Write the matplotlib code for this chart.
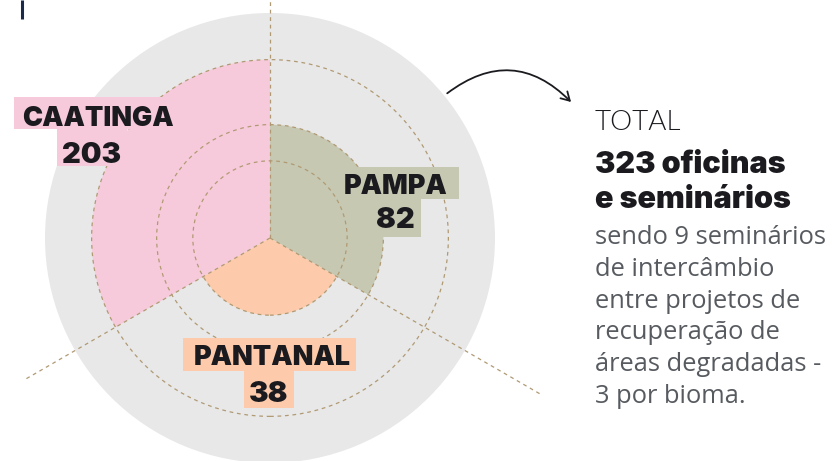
import numpy as np
import matplotlib
matplotlib.use("Agg")
import matplotlib.pyplot as plt
from matplotlib.patches import Wedge, Circle, Rectangle, FancyArrowPatch

# ---- data ----
biomes = ["CAATINGA", "PAMPA", "PANTANAL"]
values = [203, 82, 38]
total = 323
start_angles = [90, -30, 210]   # sector start (deg)
colors = ["#f7cadb", "#c6c8b2", "#fdcbab"]
body_lines = ["sendo 9 seminários", "de intercâmbio", "entre projetos de",
              "recuperação de", "áreas degradadas -", "3 por bioma."]

W, H = 832, 461
fig = plt.figure(figsize=(W / 100, H / 100), dpi=100)
ax = fig.add_axes([0, 0, 1, 1])
ax.set_xlim(0, W)
ax.set_ylim(0, H)
ax.axis("off")

cx, cy = 270, H - 238
k = 225 / np.sqrt(total)          # radius scale: r = k*sqrt(value)

def R(v):
    return k * np.sqrt(v)

grid_col = "#b09a74"
ax.add_patch(Circle((cx, cy), R(total), facecolor="#e8e8e8", edgecolor="none", zorder=1))
for v, a0, c in zip(values, start_angles, colors):
    ax.add_patch(Wedge((cx, cy), R(v), a0, a0 + 120, facecolor=c, edgecolor="none", zorder=2))
for v in values:
    ax.add_patch(Circle((cx, cy), R(v), facecolor="none", edgecolor=grid_col,
                        lw=0.9, ls=(0, (3, 3)), zorder=3))
for a0, L in zip(start_angles, [300, 313, 283]):
    t = np.deg2rad(a0)
    ax.plot([cx, cx + L * np.cos(t)], [cy, cy + L * np.sin(t)], color=grid_col,
            lw=0.9, ls=(0, (3, 3)), zorder=3)

lab_font = dict(family="Inter", fontweight=900, color="#1b1a1f", zorder=6)
label_layout = [
    ((14, H - 129, 163, 32), (57, H - 166, 70, 37), 98, H - 126, 92, H - 163),
    ((342, H - 199, 117, 32), (367, H - 237, 54, 38), 396, H - 194, 395, H - 228),
    ((183, H - 371, 173, 33), (244, H - 408, 50, 37), 272, H - 365, 269, H - 402),
]
for name, v, c, lay in zip(biomes, values, colors, label_layout):
    r1, r2, nx, ny, vx, vy = lay
    ax.add_patch(Rectangle(r1[:2], r1[2], r1[3], facecolor=c, edgecolor="none", zorder=5))
    ax.add_patch(Rectangle(r2[:2], r2[2], r2[3], facecolor=c, edgecolor="none", zorder=5))
    ax.text(nx, ny, name, fontsize=19.4, ha="center", va="baseline", **lab_font)
    ax.text(vx, vy, str(v), fontsize=21, ha="center", va="baseline", **lab_font)

arr = FancyArrowPatch((445, H - 95), (573, H - 104), connectionstyle="arc3,rad=-0.45",
                      arrowstyle="->,head_length=6,head_width=3.5", color="#1b1a1f",
                      lw=1.3, zorder=6)
ax.add_patch(arr)

ax.plot([22, 22], [H - 19, H], color="#1c2a4a", lw=2.2, solid_capstyle="butt")

ax.text(595, H - 130, "TOTAL", fontsize=20, family="Lato", fontweight=300,
        color="#1b1a1f", va="baseline")
ax.text(595, H - 173, f"{total} oficinas", fontsize=22, family="Inter",
        fontweight=900, color="#1b1a1f", va="baseline")
ax.text(595, H - 208, "e seminários", fontsize=22, family="Inter",
        fontweight=900, color="#1b1a1f", va="baseline")
for i, line in enumerate(body_lines):
    ax.text(595, H - 244 - i * 31.8, line, fontsize=18.4, family="Open Sans",
            color="#575b60", va="baseline")

fig.savefig("out.png", dpi=100)
